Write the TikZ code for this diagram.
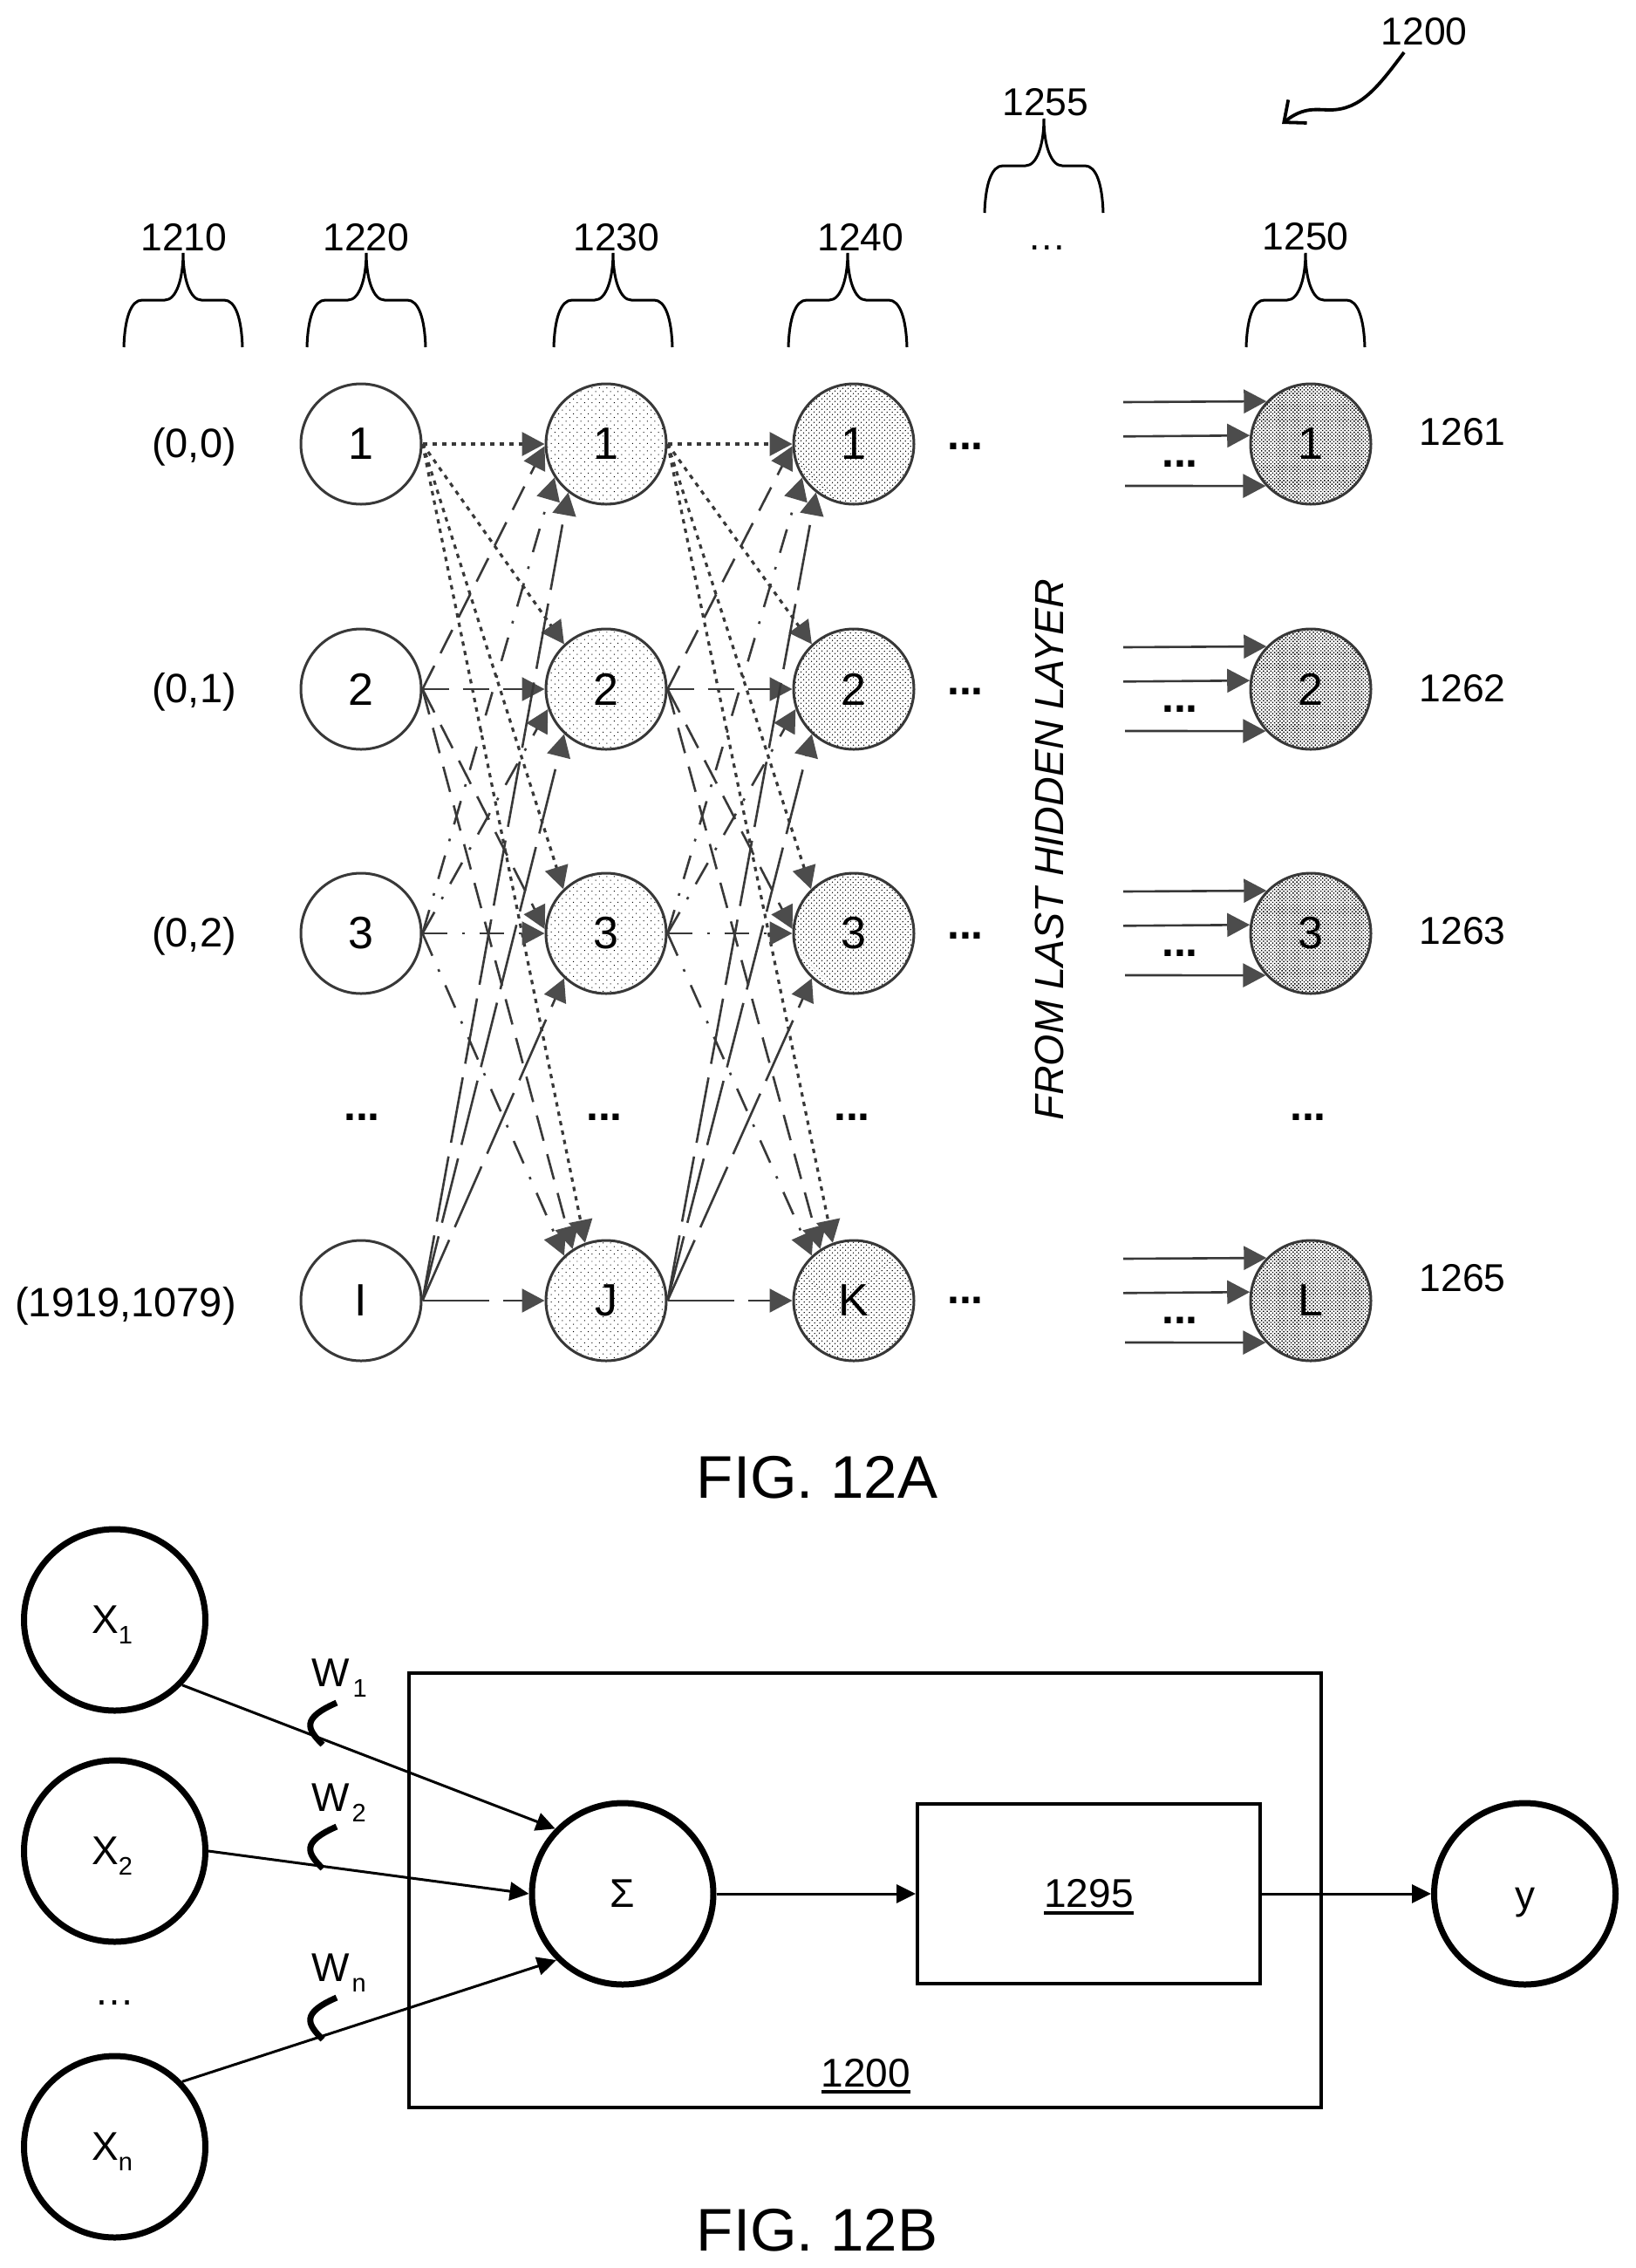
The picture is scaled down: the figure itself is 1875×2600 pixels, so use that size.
\documentclass[tikz,border=0pt]{standalone}
\usepackage{fontspec}
\setmainfont{Liberation Sans}
\usetikzlibrary{arrows.meta,patterns.meta}
\newcommand{\fsz}[1]{\fontsize{#1}{#1}\selectfont}
\newcommand{\lowsub}[1]{\raisebox{-12pt}[0pt][0pt]{\fsz{29}#1}}
\newcommand{\ulined}[1]{\setbox0\hbox{#1}\rlap{\smash{\rule[-8pt]{\wd0}{3.6pt}}}\box0}
\definecolor{gc}{gray}{0.22}
\definecolor{gt}{gray}{0.30}
\tikzset{
  neuron/.style={circle,draw=gc,line width=3pt,minimum size=138pt,inner sep=0pt,font=\fsz{52}},
  stipa/.style={pattern={Dots[distance=6pt,radius=0.7pt,angle=45]},pattern color=black},
  stipb/.style={pattern={Dots[distance=4pt,radius=0.8pt,angle=45]},pattern color=black},
  stipc/.style={pattern={Dots[distance=3pt,radius=1pt,angle=45]},pattern color=black},
  bignode/.style={circle,draw=black,line width=7pt,minimum size=208pt,inner sep=0pt,font=\fsz{46}},
  lab/.style={inner sep=0pt,anchor=base,font=\fsz{44.5}},
  dotsbold/.style={inner sep=0pt,anchor=base,font=\fsz{50}\bfseries},
  conn/.style={draw=gc,line width=2.6pt,-{Triangle[length=26pt,width=27pt,color=gt]}},
  rowa/.style={conn,line width=3.2pt,dash pattern=on 5pt off 6pt},
  rowb/.style={conn,dash pattern=on 30pt off 16pt},
  rowc/.style={conn,dash pattern=on 28pt off 17pt on 3pt off 17pt},
  rowd/.style={conn,dash pattern=on 76pt off 16pt},
  feed/.style={conn},
  plainarrow/.style={draw=black,line width=3pt,-{Triangle[length=22pt,width=21pt]}},
  boxed/.style={rectangle,draw=black,line width=4pt,inner sep=0pt},
  bracepath/.style={draw=black,line width=3pt},
  brc/.pic={\draw[bracepath] (-68,108) .. controls (-67,75) and (-60,54) .. (-47,54) -- (-21,54) .. controls (-8,54) and (0,30) .. (0,0) .. controls (0,30) and (8,54) .. (21,54) -- (47,54) .. controls (60,54) and (67,75) .. (68,108);},
}
\begin{document}
\begin{tikzpicture}[x=1pt,y=-1pt]
\useasboundingbox (0,0) rectangle (1875,2600);
% layer nodes
\foreach \n/\y/\ta/\tb/\tc/\td in {1/509/1/1/1/1,2/790/2/2/2/2,3/1070/3/3/3/3,4/1491/I/J/K/L}{
  \node[neuron,fill=white] (a\n) at (414,\y) {\ta};
  \node[neuron,stipa] (b\n) at (695,\y) {\tb};
  \node[neuron,stipb] (c\n) at (979,\y) {\tc};
  \node[neuron,stipc] (d\n) at (1503,\y) {\td};
}
% fan connectors
\foreach \s/\t in {a/b,b/c}{
  \draw[rowa] (\s1.east) -- (\t1.180);
  \draw[rowa] (\s1.east) -- (\t2.133);
  \draw[rowa] (\s1.east) -- (\t3.134);
  \draw[rowa] (\s1.east) -- (\t4.110);
  \draw[rowb] (\s2.east) -- (\t1.182);
  \draw[rowb] (\s2.east) -- (\t2.180);
  \draw[rowb] (\s2.east) -- (\t3.176);
  \draw[rowb] (\s2.east) -- (\t4.123);
  \draw[rowc] (\s3.east) -- (\t1.213);
  \draw[rowc] (\s3.east) -- (\t2.199);
  \draw[rowc] (\s3.east) -- (\t3.180);
  \draw[rowc] (\s3.east) -- (\t4.133);
  \draw[rowd] (\s4.east) -- (\t1.232);
  \draw[rowd] (\s4.east) -- (\t2.227);
  \draw[rowd] (\s4.east) -- (\t3.227);
  \draw[rowd] (\s4.east) -- (\t4.180);
}
% output layer feeds
\foreach \n/\y in {1/509,2/790,3/1070,4/1491}{
  \coordinate (fa\n) at (1288,\y-48);
  \coordinate (fb\n) at (1288,\y-8.7);
  \coordinate (fc\n) at (1290,\y+48);
  \draw[feed] (fa\n) -- (d\n.136.7);
  \draw[feed] (fb\n) -- (d\n.172.9);
  \draw[feed] (fc\n) -- (d\n.223.3);
  \node[dotsbold] (fd\n) at (1353,\y+26) {...};
}
% row dots
\node[dotsbold] (rd1) at (1107,515) {...};
\node[dotsbold] (rd2) at (1107,796) {...};
\node[dotsbold] (rd3) at (1107,1076) {...};
\node[dotsbold] (rd4) at (1107,1494) {...};
\node[dotsbold] (vd1) at (415,1284) {...};
\node[dotsbold] (vd2) at (693,1284) {...};
\node[dotsbold] (vd3) at (977,1284) {...};
\node[dotsbold] (vd4) at (1500,1284) {...};
% braces
\pic at (210,290) {brc};
\pic at (420,290) {brc};
\pic at (703,290) {brc};
\pic at (972,290) {brc};
\pic at (1497,290) {brc};
\pic at (1197,136) {brc};
\node[lab] (l1210) at (211,287) {1210};
\node[lab] (l1220) at (420,287) {1220};
\node[lab] (l1230) at (707,287) {1230};
\node[lab] (l1240) at (987,287) {1240};
\node[lab] (l1250) at (1497,286) {1250};
\node[lab] (l1255) at (1199,132) {1255};
\node[lab] (ldots) at (1201,286) {…};
\node[lab] (l1200) at (1633,51) {1200};
% pointer
\coordinate (pa) at (1610,60);
\coordinate (pb) at (1470,142);
\draw[line width=3.8pt,-{Straight Barb[length=20pt,width=34pt,line width=3.8pt]}] (pa) .. controls (1580,100) and (1560,126) .. (1525,126) .. controls (1510,126) and (1495,122) .. (pb);
% side labels
\node[lab,font=\fsz{47},anchor=base east] (ina) at (271,524) {(0,0)};
\node[lab,font=\fsz{47},anchor=base east] (inb) at (271,805) {(0,1)};
\node[lab,font=\fsz{47},anchor=base east] (inc) at (271,1085) {(0,2)};
\node[lab,font=\fsz{47},anchor=base east] (ind) at (271,1509) {(1919,1079)};
\node[lab] (o1) at (1677,510) {1261};
\node[lab] (o2) at (1677,804) {1262};
\node[lab] (o3) at (1677,1082) {1263};
\node[lab] (o4) at (1677,1480) {1265};
\node[inner sep=0pt,rotate=90,font=\fsz{46.6}\itshape] (from) at (1203,974) {FROM LAST HIDDEN LAYER};
\node[lab,font=\fsz{69}] (figa) at (937,1717) {FIG. 12A};
\node[lab,font=\fsz{69}] (figb) at (937,2580) {FIG. 12B};
% part B
\node[boxed,minimum width=1046pt,minimum height=498pt] (outerbox) at (992,2166.5) {};
\node[boxed,minimum width=393pt,minimum height=206pt,font=\fsz{46}] (act) at (1248.5,2171) {\raisebox{-2pt}{\ulined{1295}}};
\node[bignode] (x1) at (131.5,1857) {X\lowsub{1}\kern6pt};
\node[bignode] (x2) at (131.5,2122) {X\lowsub{2}\kern6pt};
\node[bignode] (xn) at (131.5,2461) {X\lowsub{n}\kern6pt};
\node[bignode] (sum) at (714,2171) {\raisebox{-2pt}{Σ}};
\node[bignode] (out) at (1748.5,2171) {\vphantom{X}\smash{\raisebox{-2pt}{y}}};
\node[lab,font=\fsz{46}] (l1200b) at (993,2392) {\ulined{1200}};
\node[lab,font=\fsz{46}] (xdots) at (131.5,2298) {…};
\draw[plainarrow] (x1.-44) -- (sum.136);
\draw[plainarrow] (x2.east) -- (sum.west);
\draw[plainarrow] (xn.44) -- (sum.225);
\draw[plainarrow] (sum.east) -- (act.west);
\draw[plainarrow] (act.east) -- (out.west);
\foreach \y in {1952,2094,2290}{
  \draw[line width=7pt,black] (386,\y) .. controls (345,\y+18) and (352,\y+30) .. (370,\y+48);
}
\node[lab,anchor=base west,font=\fsz{46}] (w1) at (357,1933) {W\kern4pt\lowsub{1}};
\node[lab,anchor=base west,font=\fsz{46}] (w2) at (357,2076) {W\kern3pt\lowsub{2}};
\node[lab,anchor=base west,font=\fsz{46}] (wn) at (357,2271) {W\kern3pt\lowsub{n}};
\end{tikzpicture}
\end{document}
